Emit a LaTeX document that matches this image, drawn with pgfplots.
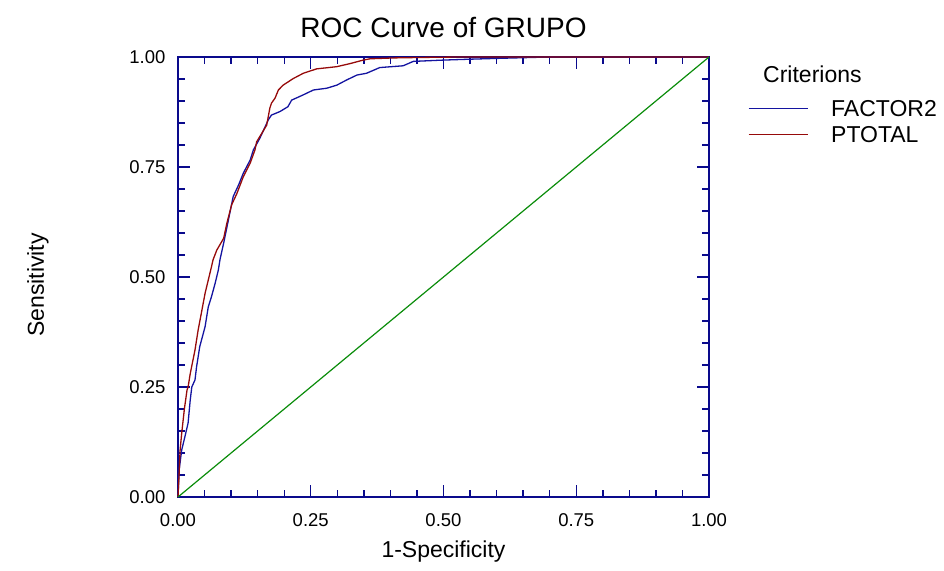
\documentclass[border=0pt]{standalone}
\usepackage{fontspec}
\setmainfont{Liberation Sans}
\usepackage{pgfplots}
\pgfplotsset{compat=1.18}
\definecolor{axblue}{RGB}{10,10,140}
\definecolor{fblue}{RGB}{20,20,160}
\definecolor{pred}{RGB}{150,10,10}
\definecolor{dgreen}{RGB}{10,140,10}
\begin{document}
\begin{tikzpicture}
\begin{axis}[name=ax, at={(0,0)}, anchor=south west,
  scale only axis, width=531pt, height=440pt,
  xmin=0, xmax=1, ymin=0, ymax=1,
  xtick={0,0.25,0.5,0.75,1}, ytick={0,0.25,0.5,0.75,1},
  minor tick num=4,
  tick align=inside,
  xtick pos=both, ytick pos=both,
  xticklabel pos=bottom, yticklabel pos=left,
  axis line style={axblue, line width=1.6pt},
  every tick/.style={axblue, line width=1.4pt},
  major tick length=12pt, minor tick length=7pt,
  tick label style={font=\fontsize{18.5}{20}\selectfont, /pgf/number format/fixed, /pgf/number format/fixed zerofill, /pgf/number format/precision=2},
  /pgf/number format/assume math mode=true,
  xticklabel style={yshift=-13pt},
  yticklabel style={xshift=-9pt},
  title={ROC Curve of GRUPO},
  title style={font=\fontsize{28}{30}\selectfont, yshift=10pt},
  xlabel={1-Specificity}, ylabel={Sensitivity},
  label style={font=\fontsize{23}{25}\selectfont},
  xlabel style={at={(axis description cs:0.5,-0.1386)}, anchor=base},
  ylabel style={at={(axis description cs:-0.2637,0.4818)}, anchor=center},
  clip=false,
  legend cell align=left,
  legend image code/.code={\draw[#1] (0pt,0pt) -- (59pt,0pt);},
  legend style={at={(axis description cs:1.0734,0.902)}, anchor=north west,
    draw=none, fill=none, inner sep=0pt, outer sep=0pt,
    font=\fontsize{23}{25}\selectfont, row sep=10pt,
    /tikz/every even column/.append style={column sep=0pt},
    nodes={inner sep=0pt, text depth=0pt}},
  legend image post style={line width=1.2pt},
]
\addplot[fblue, line width=1.3pt] coordinates {
(0,0) (0.002,0.06) (0.007,0.107) (0.013,0.137) (0.019,0.168) (0.023,0.22)
(0.026,0.25) (0.032,0.266) (0.035,0.296) (0.041,0.342) (0.051,0.387)
(0.057,0.432) (0.063,0.455) (0.07,0.486) (0.076,0.516) (0.079,0.539)
(0.086,0.577) (0.095,0.63) (0.104,0.683) (0.114,0.709) (0.123,0.736)
(0.136,0.766) (0.142,0.789) (0.154,0.815) (0.17,0.857) (0.176,0.868)
(0.192,0.876) (0.207,0.887) (0.214,0.902) (0.236,0.914) (0.255,0.925)
(0.28,0.929) (0.299,0.936) (0.318,0.948) (0.337,0.959) (0.355,0.963)
(0.38,0.976) (0.424,0.98) (0.443,0.99) (0.5,0.993) (0.55,0.995)
(0.606,0.997) (0.7,1) (1,1)
};
\addlegendentry{\hspace{23pt}FACTOR2}
\addplot[pred, line width=1.3pt] coordinates {
(0,0) (0.002,0.05) (0.004,0.107) (0.007,0.145) (0.012,0.2) (0.017,0.243)
(0.019,0.25) (0.023,0.28) (0.032,0.334) (0.038,0.38) (0.044,0.418)
(0.051,0.463) (0.057,0.493) (0.063,0.523) (0.066,0.539) (0.073,0.561)
(0.086,0.588) (0.092,0.622) (0.101,0.664) (0.111,0.69) (0.123,0.728)
(0.136,0.759) (0.145,0.789) (0.148,0.807) (0.167,0.845) (0.173,0.884)
(0.176,0.895) (0.183,0.907) (0.189,0.925) (0.198,0.936) (0.217,0.951)
(0.236,0.963) (0.261,0.973) (0.299,0.978) (0.324,0.985) (0.349,0.993)
(0.362,0.996) (0.41,0.998) (0.46,0.999) (0.53,1) (1,1)
};
\addlegendentry{\hspace{23pt}PTOTAL}
\addplot[dgreen, line width=1.2pt, forget plot] coordinates {(0,0) (1,1)};
\node[anchor=base west, inner sep=0pt, font=\fontsize{23}{25}\selectfont]
  at (axis description cs:1.1017,0.941) {Criterions};
\end{axis}
\path[use as bounding box] ([xshift=-178pt,yshift=-73pt]ax.south west) rectangle ([xshift=766pt,yshift=497pt]ax.south west);
\end{tikzpicture}
\end{document}
